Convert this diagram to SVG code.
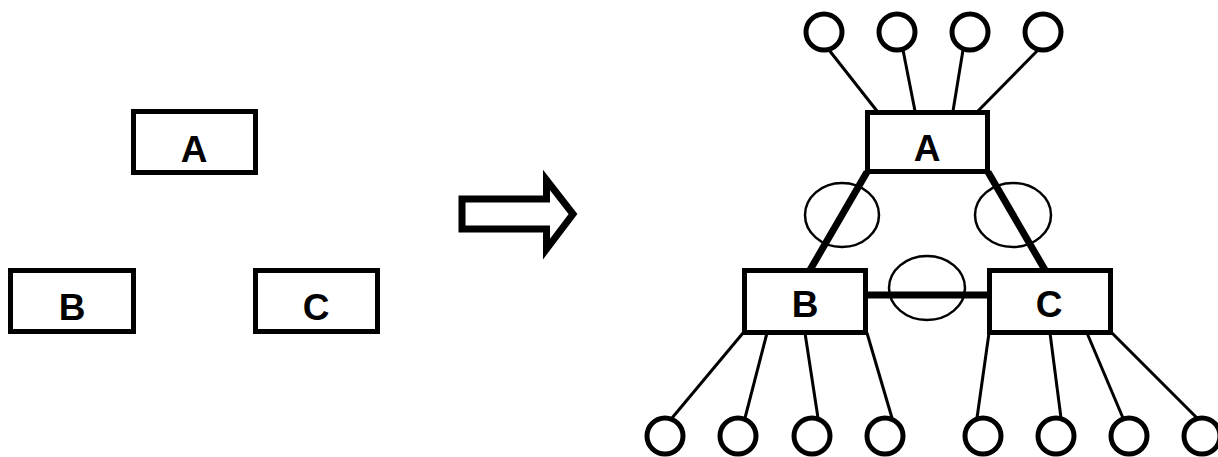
<svg xmlns="http://www.w3.org/2000/svg" width="1218" height="457" viewBox="0 0 1218 457">
<style>
.box{fill:#fff;stroke:#000;stroke-width:5}
.lbl{font-family:"Liberation Sans",Arial,sans-serif;font-weight:bold;font-size:37px;text-anchor:middle;fill:#000}
.leaf{fill:#fff;stroke:#000;stroke-width:5}
.thin{stroke:#000;stroke-width:3;fill:none}
.thick{stroke:#000;stroke-width:7;fill:none}
.ell{fill:none;stroke:#000;stroke-width:2.5}
</style>
<rect width="1218" height="457" fill="#fff"/>
<g id="left-A"><rect class="box" x="133.5" y="111.5" width="122" height="61"/><text class="lbl" x="194" y="162">A</text></g>
<g id="left-B"><rect class="box" x="10.5" y="270.5" width="123" height="61"/><text class="lbl" x="72" y="320">B</text></g>
<g id="left-C"><rect class="box" x="255.5" y="270.5" width="122" height="61"/><text class="lbl" x="316" y="320">C</text></g>
<g id="arrow"><polygon points="462,199 546.5,199 546.5,180 573,214 546.5,249 546.5,229 462,229" fill="#fff" stroke="#000" stroke-width="7" stroke-linejoin="miter"/></g>
<g id="connectors">
<line class="thin" x1="829" y1="50" x2="877" y2="111"/>
<line class="thin" x1="903" y1="50" x2="915" y2="111"/>
<line class="thin" x1="963" y1="50" x2="953" y2="111"/>
<line class="thin" x1="1038" y1="50" x2="978" y2="111"/>
<line class="thick" x1="867" y1="172" x2="810" y2="270"/>
<line class="thick" x1="988" y1="172" x2="1045" y2="270"/>
<line class="thick" x1="866" y1="295" x2="988" y2="295"/>
<line class="thin" x1="743" y1="333" x2="672" y2="418"/>
<line class="thin" x1="767" y1="333" x2="745" y2="418"/>
<line class="thin" x1="805" y1="333" x2="818" y2="418"/>
<line class="thin" x1="867" y1="333" x2="892" y2="418"/>
<line class="thin" x1="989" y1="333" x2="977" y2="418"/>
<line class="thin" x1="1050" y1="333" x2="1061" y2="418"/>
<line class="thin" x1="1087" y1="333" x2="1123" y2="418"/>
<line class="thin" x1="1112" y1="333" x2="1197" y2="418"/>
<ellipse class="ell" cx="842" cy="215" rx="37" ry="32"/>
<ellipse class="ell" cx="1013" cy="215" rx="38" ry="32"/>
<ellipse class="ell" cx="927" cy="288" rx="38" ry="32"/>
</g>
<g id="A"><rect class="box" x="867.5" y="112.5" width="120" height="59"/><text class="lbl" x="927" y="161">A</text></g>
<g id="B"><rect class="box" x="744.5" y="270.5" width="121" height="62"/><text class="lbl" x="805" y="317">B</text></g>
<g id="C"><rect class="box" x="989.5" y="270.5" width="121" height="62"/><text class="lbl" x="1049" y="317">C</text></g>
<g id="a1"><circle class="leaf" cx="824" cy="32" r="18"/></g>
<g id="a2"><circle class="leaf" cx="897" cy="32" r="18"/></g>
<g id="a3"><circle class="leaf" cx="970" cy="32" r="18"/></g>
<g id="a4"><circle class="leaf" cx="1043" cy="32" r="18"/></g>
<g id="b1"><circle class="leaf" cx="665" cy="436" r="18"/></g>
<g id="b2"><circle class="leaf" cx="738" cy="436" r="18"/></g>
<g id="b3"><circle class="leaf" cx="812" cy="436" r="18"/></g>
<g id="b4"><circle class="leaf" cx="885" cy="436" r="18"/></g>
<g id="c1"><circle class="leaf" cx="983" cy="436" r="18"/></g>
<g id="c2"><circle class="leaf" cx="1056" cy="436" r="18"/></g>
<g id="c3"><circle class="leaf" cx="1129" cy="436" r="18"/></g>
<g id="c4"><circle class="leaf" cx="1202" cy="436" r="18"/></g>
</svg>
